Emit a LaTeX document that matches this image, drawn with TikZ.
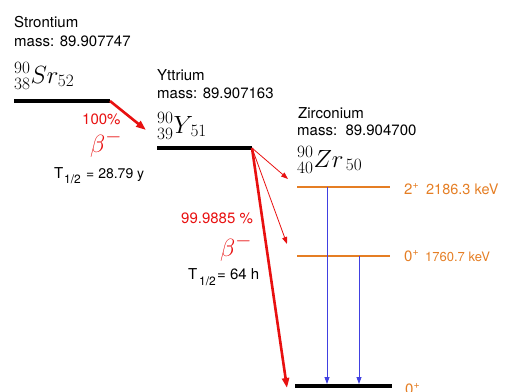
\documentclass[tikz,border=0pt]{standalone}
\usepackage{fontspec}
\setmainfont{TeX Gyre Heros}
\usetikzlibrary{arrows.meta}
\definecolor{lvlorange}{RGB}{229,126,36}
\definecolor{decred}{RGB}{232,16,16}
\definecolor{gblue}{RGB}{64,64,225}
\begin{document}
\begin{tikzpicture}[x=1pt,y=-1pt,
  txt/.style={anchor=base west, inner sep=0pt, font=\fontsize{15}{18}\selectfont},
  subtxt/.style={anchor=base west, inner sep=0pt, font=\fontsize{12}{14}\selectfont},
  valtxt/.style={anchor=base west, inner sep=0pt, font=\fontsize{14}{17}\selectfont},
  nucl/.style={anchor=base west, inner sep=0pt, font=\fontsize{26}{30}\selectfont},
  betalbl/.style={anchor=base west, inner sep=0pt, text=decred, font=\fontsize{29}{32}\selectfont},
  pct/.style={txt, text=decred},
  elbl/.style={txt, text=lvlorange},
  gslevel/.style={line width=4pt, black},
  exlevel/.style={line width=2pt, lvlorange},
  betamain/.style={line width=2.6pt, decred, -{Triangle[length=10pt,width=7pt]}},
  betaside/.style={line width=0.8pt, decred, -{Triangle[length=7pt,width=5pt]}},
  gamma/.style={line width=0.8pt, gblue, -{Triangle[length=7pt,width=5pt]}}]
\useasboundingbox (0,0) rectangle (505,391);
% Strontium
\node[txt] (srname) at (14,27) {Strontium};
\node[txt] (srmass) at (14,46) {mass: 89.907747};
\node[nucl] (srsym) at (14,83) {${}^{90}_{38}Sr_{52}$};
\coordinate (srL) at (14,101);
\coordinate (srR) at (110,101);
\draw[gslevel] (srL) -- (srR);
\node[pct] (srpct) at (82,124) {100\%};
\node[betalbl] (srbeta) at (90,152) {$\beta^{-}$};
\node[txt] (srT) at (54,178) {T};
\node[subtxt] (srTsub) at (64,183) {1/2};
\node[valtxt] (srhalf) at (86,178) {= 28.79 y};
% Yttrium
\node[txt] (yname) at (157,80) {Yttrium};
\node[txt] (ymass) at (157,98) {mass: 89.907163};
\node[nucl] (ysym) at (157,133) {${}^{90}_{39}Y_{\,51}$};
\coordinate (yL) at (157,148);
\coordinate (yR) at (252,148);
\draw[gslevel] (yL) -- (yR);
\node[pct] (ypct) at (181,223) {99.9885 \%};
\node[betalbl] (ybeta) at (220,256) {$\beta^{-}$};
\node[txt] (yT) at (188,279) {T};
\node[subtxt] (yTsub) at (199,285) {1/2};
\node[txt] (yhalf) at (217,279) {= 64 h};
% Zirconium
\node[txt] (zname) at (298,118) {Zirconium};
\node[txt] (zmass) at (297,135) {mass:\ \ 89.904700};
\node[nucl] (zsym) at (297,167) {${}^{90}_{40}Zr_{\,50}$};
\coordinate (z2L) at (297,187);
\coordinate (z2R) at (390,187);
\coordinate (z0L) at (297,256);
\coordinate (z0R) at (390,256);
\coordinate (zgL) at (295,386);
\coordinate (zgR) at (392,386);
\draw[exlevel] (z2L) -- (z2R);
\draw[exlevel] (z0L) -- (z0R);
\draw[gslevel] (zgL) -- (zgR);
\node[elbl] (z2lbl) at (404,194) {2\textsuperscript{+}\hspace{7pt}{\fontsize{14.5}{16}\selectfont 2186.3 keV}};
\node[elbl] (z0lbl) at (404,261) {0\textsuperscript{+}\hspace{6pt}{\fontsize{13}{15}\selectfont 1760.7 keV}};
\node[elbl] (zglbl) at (405,394) {0\textsuperscript{+}};
% decays
\coordinate (srtip) at (146,130);
\coordinate (ytip2) at (288,179);
\coordinate (ytip0) at (287,244);
\coordinate (ytipg) at (287,388);
\draw[betamain] (srR) -- (srtip);
\draw[betamain] (yR) -- (ytipg);
\draw[betaside] (yR) -- (ytip2);
\draw[betaside] (yR) -- (ytip0);
% gammas
\coordinate (g1top) at (327,187);
\coordinate (g1bot) at (327,384);
\coordinate (g2top) at (359,256);
\coordinate (g2bot) at (359,384);
\draw[gamma] (g1top) -- (g1bot);
\draw[gamma] (g2top) -- (g2bot);
\end{tikzpicture}
\end{document}
